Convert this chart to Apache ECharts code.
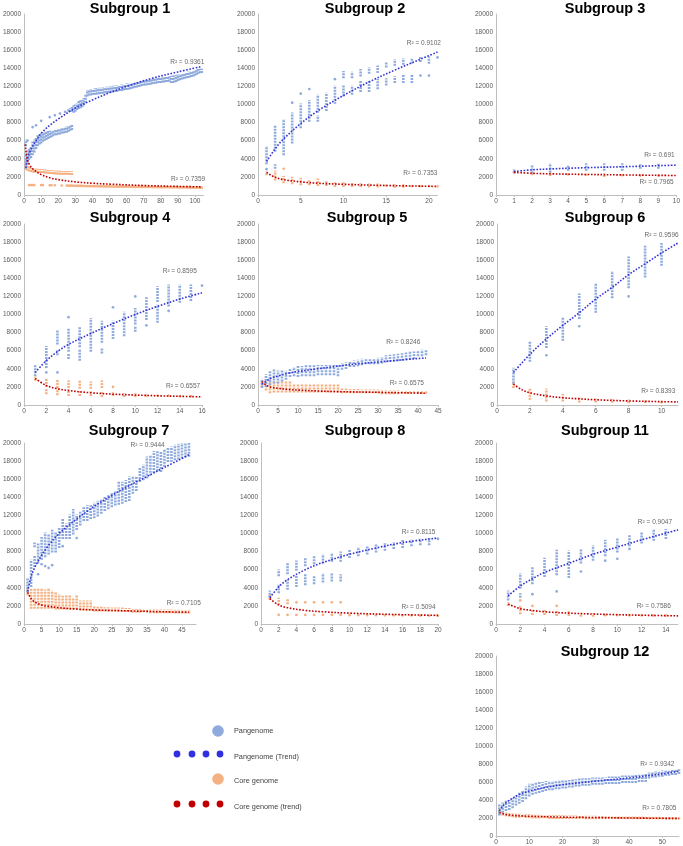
<!DOCTYPE html>
<html><head><meta charset="utf-8">
<script src="https://cdn.jsdelivr.net/npm/echarts@6/dist/echarts.min.js"></script>
<style>html,body{margin:0;padding:0;background:#fff}#c{width:683px;height:846px}</style>
</head><body><div id="c"></div>
<script>
// ---------- DATA: ranges are [x, low, high] (low==high -> single point) ----------
const yTicks = [0, 20000, 2000];
const sg1Pan = [[1,3000,4500],[1,5500,6000],[2,3500,4800],[2,6000,6000],[3,4000,5000],[4,4200,5300],[5,4500,5800],[5,7500,7500],[6,4800,6000],[7,5200,6300],[7,7700,7700],[8,5500,6500],[9,5700,6600],[10,5800,6700],[10,8200,8200],[11,6000,6800],[12,6100,6900],[13,6200,6900],[14,6300,7000],[15,6400,7000],[15,8600,8600],[16,6500,7000],[17,6600,7000],[18,6700,7100],[18,8800,8800],[19,6700,7100],[20,6800,7200],[21,6800,7200],[21,9000,9000],[22,6900,7300],[23,6900,7300],[24,7000,7400],[24,9200,9200],[25,7000,7500],[26,7100,7500],[26,9300,9400],[27,7200,7600],[27,9300,9500],[28,7300,7700],[28,9300,9600],[29,9200,9800],[30,9300,9900],[31,9500,10000],[32,9600,10300],[33,9700,10400],[34,9800,10400],[35,10000,10600],[36,10300,11000],[37,11000,11500],[38,11100,11550],[39,11100,11600],[40,11150,11600],[41,11200,11650],[42,11200,11700],[43,11250,11700],[44,11250,11750],[45,11300,11750],[46,11300,11800],[47,11350,11800],[48,11350,11850],[49,11400,11850],[50,11400,11900],[51,11450,11900],[52,11450,11950],[53,11500,11950],[54,11500,12000],[55,11550,12000],[56,11600,12050],[57,11600,12100],[58,11650,12100],[59,11700,12150],[60,11700,12200],[61,11750,12200],[62,11800,12250],[63,11850,12300],[64,11900,12300],[65,11950,12350],[66,12000,12400],[67,12050,12450],[68,12100,12500],[69,12150,12500],[70,12200,12550],[71,12200,12600],[72,12250,12600],[73,12300,12650],[74,12300,12700],[75,12350,12700],[76,12400,12750],[77,12400,12800],[78,12450,12800],[79,12500,12850],[80,12500,12900],[81,12550,12900],[82,12550,12950],[83,12600,13000],[84,12600,13000],[85,12650,13050],[86,12500,13050],[87,12500,13100],[88,12550,13100],[89,12600,13150],[90,12700,13200],[91,12800,13250],[92,12850,13300],[93,12900,13350],[94,12950,13400],[95,13000,13450],[96,13050,13500],[97,13100,13550],[98,13150,13600],[99,13200,13650],[100,13300,13700],[101,13400,13750],[102,13500,13800],[103,13550,13850],[104,13600,13850]];
const sg1Core = [[1,2900,4000],[2,2800,3300],[3,2700,3000],[3,1100,1100],[4,2650,2900],[4,1100,1100],[5,2600,2850],[5,1100,1100],[6,2600,2800],[6,1100,1100],[7,2600,2800],[8,2580,2780],[9,2560,2760],[10,2550,2750],[10,1100,1100],[11,2530,2730],[11,1100,1100],[12,2500,2700],[13,2480,2680],[14,2460,2660],[15,2450,2650],[15,1080,1080],[16,2420,2620],[16,1080,1080],[17,2400,2600],[18,2400,2580],[18,1080,1080],[19,2380,2580],[20,2380,2560],[21,2360,2560],[22,2360,2550],[22,1050,1050],[23,2350,2550],[24,2350,2540],[25,2340,2540],[25,1000,1080],[26,2340,2530],[26,1000,1080],[27,2330,2530],[27,990,1070],[28,2330,2520],[28,990,1070],[29,980,1060],[30,975,1060],[31,970,1055],[32,965,1050],[33,960,1045],[34,955,1040],[35,950,1040],[36,945,1035],[37,940,1030],[38,935,1030],[39,930,1025],[40,930,1020],[41,925,1020],[42,920,1015],[43,920,1010],[44,915,1010],[45,910,1005],[46,910,1000],[47,905,1000],[48,900,995],[49,900,990],[50,895,990],[51,895,985],[52,890,985],[53,890,980],[54,885,980],[55,885,975],[56,880,975],[57,880,970],[58,875,970],[59,875,965],[60,870,965],[61,870,960],[62,865,960],[63,865,955],[64,860,955],[65,860,950],[66,855,950],[67,855,945],[68,850,945],[69,850,940],[70,845,940],[71,845,935],[72,840,935],[73,840,930],[74,835,930],[75,835,925],[76,830,925],[77,830,920],[78,825,920],[79,825,915],[80,820,915],[81,820,910],[82,815,910],[83,815,905],[84,810,905],[85,810,900],[86,805,900],[87,805,900],[88,800,895],[89,800,895],[90,800,890],[91,795,890],[92,795,885],[93,790,885],[94,790,880],[95,785,880],[96,785,875],[97,780,875],[98,780,870],[99,775,870],[100,775,865],[101,770,865],[102,770,860],[103,765,860],[104,765,855]];
const sg1PanTrend = [[1,3000],[2,4000],[3,4600],[5,5400],[7,6000],[10,6800],[15,7700],[20,8400],[30,9600],[40,10500],[50,11300],[60,12000],[75,12900],[90,13600],[104,14200]];
const sg1CoreTrend = [[0.7,5600],[1,5000],[1.5,4300],[2,3900],[3,3400],[5,2900],[7,2600],[10,2250],[15,1900],[20,1700],[30,1450],[40,1300],[50,1200],[70,1050],[90,950],[104,900]];
const sg1R2 = [['R² = 0.9361',95.5,14700],['R² = 0.7359',96,1770]];

const sg2Pan = [[1,2800,2900],[1,3500,5300],[2,3000,3300],[2,4900,7600],[3,4500,8300],[4,5800,9000],[4,10200,10200],[5,7500,10000],[5,11200,11200],[6,8200,10400],[6,11700,11700],[7,8200,8700],[7,9200,11000],[8,9400,11200],[9,10200,12000],[9,12800,12800],[10,11000,12000],[10,13000,13600],[11,11200,12000],[11,13000,13500],[12,11500,12500],[12,13200,13800],[13,11500,12500],[13,13500,14000],[14,11800,12700],[14,13600,14200],[15,12200,12800],[15,14200,14600],[16,12500,13000],[16,14400,14900],[17,12500,13200],[17,14500,15000],[18,12500,13200],[18,14600,15000],[19,13200,13200],[19,14800,15200],[20,13200,13200],[20,14600,15200],[21,15200,15200]];
const sg2Core = [[1,2300,2500],[2,1700,2600],[3,1400,2000],[3,2900,2900],[4,1300,1900],[5,1200,1800],[6,1200,1600],[7,1100,1700],[8,1100,1400],[9,1000,1300],[10,1000,1300],[11,1000,1200],[12,1000,1200],[13,950,1150],[14,950,1150],[15,950,1100],[16,900,1100],[17,900,1100],[18,900,1050],[19,900,1050],[20,900,1050],[21,950,950]];
const sg2PanTrend = [[1,3700],[2,5100],[3,6200],[5,7900],[7,9300],[10,11000],[13,12500],[16,13800],[19,15000],[21,15800]];
const sg2CoreTrend = [[1,2500],[2,1950],[3,1700],[5,1450],[7,1300],[10,1180],[15,1050],[21,950]];
const sg2R2 = [['R² = 0.9102',19.4,16800],['R² = 0.7353',19,2430]];

const sg3Pan = [[1,2500,2700],[2,2500,3200],[3,2600,3400],[4,2800,3200],[5,2800,3400],[6,2800,3400],[7,2800,3400],[8,3000,3300],[9,3000,3400]];
const sg3Core = [[1,2500,2650],[2,2300,2500],[3,2200,2400],[4,2200,2350],[5,2150,2300],[6,2100,2300],[7,2100,2250],[8,2100,2200],[9,2100,2200]];
const sg3PanTrend = [[1,2600],[2,2780],[3,2880],[5,3020],[7,3120],[10,3300]];
const sg3CoreTrend = [[1,2500],[2,2400],[3,2340],[5,2270],[7,2220],[10,2150]];
const sg3R2 = [['R² = 0.691',9.06,4420],['R² = 0.7965',8.9,1440]];

const sg4Pan = [[1,3300,4400],[2,3600,3600],[2,4200,6400],[3,3600,3600],[3,5600,6000],[3,6800,8200],[4,5200,5600],[4,6000,8400],[4,9700,9700],[5,5000,6000],[5,6500,8600],[6,6000,6800],[6,7000,9500],[7,5800,6200],[7,7000,9200],[8,7400,9200],[8,10800,10800],[9,7700,10200],[10,8200,8600],[10,9000,10600],[10,12000,12000],[11,8800,8800],[11,9500,11800],[12,9200,11000],[12,11500,13000],[13,10400,10400],[13,11000,13200],[14,11400,13200],[15,11600,13200],[16,13200,13200]];
const sg4Core = [[1,2800,3000],[2,1300,1700],[2,2100,2800],[3,1200,1700],[3,2000,2700],[4,1100,1600],[4,2000,2600],[5,1100,1500],[5,1900,2600],[6,1100,1400],[6,1900,2500],[7,1000,1400],[7,2000,2600],[8,1100,1300],[8,2000,2000],[9,1000,1200],[10,1000,1200],[11,950,1100],[12,950,1100],[13,950,1100],[14,900,1050],[15,900,1050]];
const sg4PanTrend = [[1,3600],[2,4900],[3,5900],[4,6700],[6,7900],[8,9000],[10,10000],[12,10900],[14,11700],[16,12400]];
const sg4CoreTrend = [[1,2950],[2,2150],[3,1800],[4,1600],[6,1350],[8,1200],[10,1100],[12,1020],[14,960],[16,900]];
const sg4R2 = [['R² = 0.8595',14.0,14800],['R² = 0.6557',14.3,2100]];

const sg5Pan = [[1,2000,2800],[2,2100,3300],[3,2300,3700],[4,2500,3800],[5,2500,3700],[6,2700,3800],[7,2900,3700],[8,3200,3900],[9,3300,4100],[10,3200,4200],[11,3300,4200],[12,3300,4300],[13,3300,4300],[14,3300,4300],[15,3400,4300],[16,3400,4300],[17,3400,4300],[18,3400,4300],[19,3400,4300],[20,3300,4400],[21,4000,4500],[22,4100,4600],[23,4300,4700],[24,4300,4800],[25,4400,4900],[26,4500,5000],[27,4600,5000],[28,4600,5000],[29,4600,5000],[30,4600,5100],[31,4700,5200],[32,4800,5400],[33,4850,5450],[34,4900,5500],[35,4950,5550],[36,5000,5600],[37,5050,5700],[38,5100,5800],[39,5200,5800],[40,5500,5900],[41,5500,6000],[42,5600,6000]];
const sg5Core = [[1,2100,2600],[2,1700,2700],[3,1400,2700],[4,1500,2600],[5,1500,2500],[6,1500,2500],[7,1500,2500],[8,1500,2500],[9,1500,2200],[10,1500,2200],[11,1500,2200],[12,1500,2200],[13,1500,2200],[14,1500,2200],[15,1500,2200],[16,1500,2200],[17,1500,2200],[18,1500,2200],[19,1500,2200],[20,1500,2200],[21,1400,1700],[22,1400,1700],[23,1400,1650],[24,1400,1650],[25,1400,1650],[26,1400,1600],[27,1400,1600],[28,1400,1600],[29,1400,1600],[30,1400,1600],[31,1300,1500],[32,1300,1500],[33,1300,1500],[34,1300,1500],[35,1300,1500],[36,1300,1450],[37,1300,1450],[38,1300,1450],[39,1300,1450],[40,1300,1450],[41,1300,1450],[42,1300,1450]];
const sg5PanTrend = [[1,2300],[3,2900],[5,3200],[8,3550],[10,3700],[15,4000],[20,4300],[25,4550],[30,4750],[35,4950],[42,5200]];
const sg5CoreTrend = [[1,2600],[2,2200],[3,2000],[5,1850],[8,1700],[10,1650],[15,1550],[20,1480],[30,1400],[42,1300]];
const sg5R2 = [['R² = 0.8246',36.3,6960],['R² = 0.6575',37.2,2430]];

const sg6Pan = [[1,2500,4000],[2,4900,6900],[3,5500,5500],[3,6400,8600],[4,7200,9600],[5,8700,8700],[5,9600,12200],[6,10300,13400],[7,11900,14700],[8,12000,12000],[8,13000,16300],[9,14200,17500],[10,15500,17800]];
const sg6Core = [[1,2000,2500],[2,700,1700],[3,500,1700],[4,500,1100],[5,400,800],[6,400,600],[7,350,550],[8,300,500],[9,300,400],[10,250,350]];
const sg6PanTrend = [[1,3600],[2,5600],[3,7300],[4,8800],[5,10200],[6,11700],[7,13000],[8,14400],[9,15600],[10,16800],[11,17900]];
const sg6CoreTrend = [[1,2300],[1.5,1700],[2,1350],[3,1000],[4,800],[5,680],[6,580],[8,450],[10,370],[11,340]];
const sg6R2 = [['R² = 0.9596',10.0,18800],['R² = 0.8393',9.8,1550]];

const sg7Pan = [[1,3600,5000],[2,4200,7000],[3,6400,7500],[3,8600,8900],[4,5500,5500],[4,6800,8900],[5,6600,6600],[5,7200,9500],[6,6400,6400],[6,7500,10000],[7,6200,6200],[7,7800,9800],[8,6500,6500],[8,8000,10300],[9,8000,10000],[10,8500,10600],[11,8600,8600],[11,9500,11500],[12,9500,11000],[13,9500,12000],[14,10000,12600],[15,9500,9500],[15,10500,12000],[16,11000,12300],[17,11500,12800],[18,11500,13000],[19,11700,13000],[20,11800,13300],[21,12000,13500],[22,12300,13700],[23,12600,14000],[24,12800,14200],[25,13000,14400],[26,13200,14600],[27,13300,15700],[28,13400,15600],[29,13600,15800],[30,13700,16200],[31,14500,16200],[32,14800,16200],[33,15800,17200],[34,16000,17500],[35,16200,18400],[36,16500,18600],[37,16800,19000],[38,17000,19000],[39,16900,19000],[40,17500,19200],[41,18000,19400],[42,18000,19500],[43,18200,19700],[44,18300,19800],[45,18400,19900],[46,18500,19900],[47,18600,19900]];
const sg7Core = [[1,3300,4000],[2,1800,3900],[3,1800,3800],[4,1800,3800],[5,1800,3800],[6,1800,3700],[7,1800,3800],[8,1800,3600],[9,1700,3400],[10,1700,3200],[11,1700,3000],[12,1700,3100],[13,1700,3100],[14,1700,2800],[15,1700,3100],[16,1600,2500],[17,1600,2500],[18,1600,2500],[19,1600,2500],[20,1500,1900],[21,1500,1800],[22,1500,1800],[23,1500,1750],[24,1500,1750],[25,1500,1700],[26,1500,1700],[27,1500,1700],[28,1450,1700],[29,1450,1650],[30,1450,1650],[31,1350,1550],[32,1350,1550],[33,1350,1550],[34,1350,1500],[35,1350,1500],[36,1300,1500],[37,1300,1500],[38,1300,1500],[39,1300,1500],[40,1300,1480],[41,1300,1480],[42,1300,1480],[43,1280,1460],[44,1280,1460],[45,1280,1450],[46,1280,1450],[47,1280,1450]];
const sg7PanTrend = [[1,3600],[2,5200],[3,6200],[5,7600],[7,8700],[10,10000],[15,11600],[20,13000],[25,14200],[30,15300],[35,16300],[40,17300],[47,18700]];
const sg7CoreTrend = [[1,3500],[2,2800],[3,2450],[5,2100],[7,1950],[10,1800],[15,1650],[20,1550],[30,1450],[40,1350],[47,1300]];
const sg7R2 = [['R² = 0.9444',35.2,19780],['R² = 0.7105',45.5,2320]];

const sg8Pan = [[1,3000,3600],[2,3500,4300],[2,5400,5900],[3,3900,4800],[3,5600,6600],[4,4200,5200],[4,6000,6900],[5,4400,5400],[5,6500,7200],[6,4500,5200],[6,6700,7500],[7,4700,5500],[7,6800,7600],[8,4800,5500],[8,7000,7700],[9,4800,5400],[9,7000,7900],[10,7400,8100],[11,7600,8400],[12,7800,8500],[13,8000,8700],[14,8200,8800],[15,8400,8900],[16,8500,9200],[17,8700,9200],[18,8800,9300],[19,8800,9400],[20,9400,9400]];
const sg8Core = [[1,2800,3100],[2,1000,1000],[2,2200,2800],[3,1000,1000],[3,2300,2700],[4,1000,1000],[4,2400,2400],[5,1000,1000],[5,2400,2400],[6,1000,1000],[6,2400,2400],[7,1000,1000],[7,2400,2400],[8,1000,1000],[8,2400,2400],[9,1000,1000],[9,2400,2400],[10,950,1000],[11,950,1000],[12,950,1000],[13,950,1000],[14,930,980],[15,930,980],[16,920,970],[17,920,970],[18,900,950],[19,900,950],[20,900,950]];
const sg8PanTrend = [[1,2900],[2,4100],[3,4900],[5,6000],[7,6800],[10,7700],[13,8400],[16,9000],[20,9500]];
const sg8CoreTrend = [[1,2800],[2,2100],[3,1800],[5,1500],[7,1350],[10,1200],[15,1050],[20,950]];
const sg8R2 = [['R² = 0.8115',17.8,10170],['R² = 0.5094',17.8,1880]];

const sg11Pan = [[1,2700,3600],[2,3000,3300],[2,4000,5500],[3,3300,3300],[3,4500,6200],[4,5300,7200],[5,3600,3600],[5,5500,8100],[6,5200,8000],[7,5800,5800],[7,6800,8200],[8,7100,8600],[9,7000,7000],[9,7600,9200],[10,7200,7200],[10,8000,9400],[11,8300,8300],[11,8700,9800],[12,9000,10000],[13,9300,10300],[14,9500,10400]];
const sg11Core = [[1,2100,2300],[2,1200,2000],[2,2600,2600],[3,1100,1500],[3,2000,2000],[4,1100,1500],[5,1000,1400],[5,2000,2000],[6,1000,1300],[7,900,1100],[8,900,1100],[9,900,1050],[10,900,1050],[11,900,1000],[12,900,1000],[13,900,1000],[14,880,980]];
const sg11PanTrend = [[1,3100],[2,4200],[3,5000],[4,5700],[6,6700],[8,7700],[10,8500],[12,9300],[15,10400]];
const sg11CoreTrend = [[1,2200],[2,1700],[3,1500],[4,1350],[6,1200],[8,1100],[10,1030],[12,970],[15,900]];
const sg11R2 = [['R² = 0.9047',13.1,11270],['R² = 0.7586',13.0,1990]];

const sg12Pan = [[1,2400,3500],[2,2700,3600],[3,2900,3800],[4,3000,3900],[5,3200,4100],[6,3500,4400],[7,3700,4700],[8,3900,5000],[9,4200,5400],[10,4500,5700],[11,4700,5800],[12,4800,5800],[13,4900,5900],[14,5000,5900],[15,5100,6000],[16,5200,6000],[17,5200,6000],[18,5300,6000],[19,5300,6100],[20,5400,6100],[21,5400,6100],[22,5500,6100],[23,5500,6200],[24,5600,6200],[25,5600,6300],[26,5700,6300],[27,5700,6300],[28,5700,6300],[29,5800,6400],[30,5800,6400],[31,5800,6400],[32,5800,6400],[33,5900,6400],[34,5900,6500],[35,5900,6500],[36,5900,6500],[37,5900,6500],[38,6000,6600],[39,6000,6600],[40,6000,6600],[41,6000,6600],[42,6000,6700],[43,6100,6700],[44,6100,6700],[45,6100,6800],[46,6500,7000],[47,6600,7000],[48,6600,7100],[49,6700,7100],[50,6700,7200],[51,6800,7200],[52,6800,7200],[53,6900,7300],[54,6900,7300],[55,7000,7300]];
const sg12Core = [[1,2500,2800],[2,2400,2600],[3,2300,2500],[4,2250,2450],[5,2200,2400],[6,2150,2350],[7,2150,2350],[8,2150,2300],[9,2100,2300],[10,2100,2300],[11,2050,2250],[12,2050,2250],[13,2050,2250],[14,2050,2200],[15,2050,2200],[16,2000,2200],[17,2000,2200],[18,2000,2200],[19,2000,2200],[20,2000,2200],[21,2000,2180],[22,2000,2180],[23,2000,2180],[24,2000,2180],[25,2000,2150],[26,2000,2150],[27,1980,2150],[28,1980,2150],[29,1980,2150],[30,1980,2150],[31,1980,2120],[32,1980,2120],[33,1960,2120],[34,1960,2120],[35,1960,2100],[36,1960,2100],[37,1950,2100],[38,1950,2100],[39,1950,2100],[40,1950,2100],[41,1940,2080],[42,1940,2080],[43,1940,2080],[44,1930,2080],[45,1930,2060],[46,1920,2060],[47,1920,2060],[48,1920,2050],[49,1910,2050],[50,1900,2050],[51,1900,2040],[52,1900,2040],[53,1890,2030],[54,1890,2030],[55,1880,2020]];
const sg12PanTrend = [[1,2800],[2,3300],[3,3700],[5,4200],[7,4600],[10,5000],[15,5400],[20,5700],[25,5900],[30,6100],[40,6450],[50,6900],[55,7200]];
const sg12CoreTrend = [[1,2600],[3,2400],[5,2300],[10,2200],[20,2100],[30,2050],[40,2000],[55,1950]];
const sg12R2 = [['R² = 0.9342',48.5,7960],['R² = 0.7805',49.1,3090]];

const legendLabels = ['Pangenome','Pangenome (Trend)','Core genome','Core genome (trend)'];

// ---------- LAYOUT ----------
const panels = [
 {t:'Subgroup 1', d:[sg1Pan,sg1Core,sg1PanTrend,sg1CoreTrend,sg1R2], xMax:105, xInt:10, showMax:false, box:[22,14,181.5,181], tx:130, ty:1},
 {t:'Subgroup 2', d:[sg2Pan,sg2Core,sg2PanTrend,sg2CoreTrend,sg2R2], xMax:21, xInt:5, showMax:false, box:[258,14,179.5,181], tx:365, ty:1},
 {t:'Subgroup 3', d:[sg3Pan,sg3Core,sg3PanTrend,sg3CoreTrend,sg3R2], xMax:10, xInt:1, showMax:true, box:[496,14,181,181], tx:605, ty:1},
 {t:'Subgroup 4', d:[sg4Pan,sg4Core,sg4PanTrend,sg4CoreTrend,sg4R2], xMax:16, xInt:2, showMax:true, box:[22,224,180,181], tx:130, ty:210},
 {t:'Subgroup 5', d:[sg5Pan,sg5Core,sg5PanTrend,sg5CoreTrend,sg5R2], xMax:45, xInt:5, showMax:true, box:[258,224,180,181], tx:367, ty:210},
 {t:'Subgroup 6', d:[sg6Pan,sg6Core,sg6PanTrend,sg6CoreTrend,sg6R2], xMax:11, xInt:2, showMax:false, box:[497,224,181,181], tx:605, ty:210},
 {t:'Subgroup 7', d:[sg7Pan,sg7Core,sg7PanTrend,sg7CoreTrend,sg7R2], xMax:49, xInt:5, showMax:false, box:[21,443,175,181], tx:129, ty:423},
 {t:'Subgroup 8', d:[sg8Pan,sg8Core,sg8PanTrend,sg8CoreTrend,sg8R2], xMax:20, xInt:2, showMax:true, box:[261,443,177,181], tx:365, ty:423},
 {t:'Subgroup 11', d:[sg11Pan,sg11Core,sg11PanTrend,sg11CoreTrend,sg11R2], xMax:15, xInt:2, showMax:false, box:[496,443,182,181], tx:605, ty:423},
 {t:'Subgroup 12', d:[sg12Pan,sg12Core,sg12PanTrend,sg12CoreTrend,sg12R2], xMax:55, xInt:10, showMax:false, box:[496,656,183,181], tx:605, ty:644}
];

const C = {pan:'#8FAADC', core:'#F4B183', panT:'#3333D6', coreT:'#C00000', axis:'#BFBFBF', lab:'#595959', txt:'#404040'};
const FONT = '"Liberation Sans", Arial, sans-serif';
const plain = v => String(v);

function rangeSeries(data, color, i) {
  return {
    type:'custom', xAxisIndex:i, yAxisIndex:i, data:data, z:2, silent:true, animation:false,
    encode:{x:0, y:[1,2]},
    renderItem:function(params, api){
      const a = api.coord([api.value(0), api.value(1)]);
      const b = api.coord([api.value(0), api.value(2)]);
      const top = Math.min(a[1], b[1]), bot = Math.max(a[1], b[1]);
      if (bot - top < 1.5) {
        return {type:'circle', shape:{cx:a[0], cy:(top+bot)/2, r:1.35}, style:{fill:color}};
      }
      return {type:'line', shape:{x1:a[0], y1:bot+1, x2:a[0], y2:top-1},
              style:{stroke:color, lineWidth:2.6, lineDash:[2,1], lineCap:'butt'}};
    }
  };
}

const grid=[], xAxis=[], yAxis=[], series=[], graphic=[];
panels.forEach((p,i)=>{
  grid.push({left:p.box[0], top:p.box[1], width:p.box[2], height:p.box[3], containLabel:false});
  xAxis.push({type:'value', gridIndex:i, min:0, max:p.xMax, interval:p.xInt, splitLine:{show:false},
    axisLine:{show:true, onZero:false, lineStyle:{color:C.axis, width:1}},
    axisTick:{show:true, length:2, lineStyle:{color:C.axis}},
    axisLabel:{fontSize:6.5, color:C.lab, margin:3, fontFamily:FONT, showMaxLabel:p.showMax, showMinLabel:true, formatter:plain}});
  yAxis.push({type:'value', gridIndex:i, min:yTicks[0], max:yTicks[1], interval:yTicks[2], splitLine:{show:false},
    axisLine:{show:true, lineStyle:{color:C.axis, width:1}},
    axisTick:{show:false},
    axisLabel:{fontSize:6.5, color:C.lab, margin:3, fontFamily:FONT, formatter:plain}});
  const [pan, core, pt, ct, r2] = p.d;
  series.push(rangeSeries(core, C.core, i));
  series.push(rangeSeries(pan, C.pan, i));
  series.push({type:'line', xAxisIndex:i, yAxisIndex:i, data:pt, smooth:0.35, showSymbol:false, z:4, silent:true,
    lineStyle:{type:'dotted', width:1.6, color:C.panT}});
  series.push({type:'line', xAxisIndex:i, yAxisIndex:i, data:ct, smooth:0.35, showSymbol:false, z:4, silent:true,
    lineStyle:{type:'dotted', width:1.6, color:C.coreT}});
  series.push({type:'scatter', xAxisIndex:i, yAxisIndex:i, symbolSize:0, z:5, silent:true,
    data:r2.map(r=>({name:r[0], value:[r[1], r[2]]})),
    label:{show:true, position:'inside', formatter:'{b}', fontSize:6.5, color:C.txt, fontFamily:FONT}});
  graphic.push({type:'text', x:p.tx, y:p.ty, silent:true,
    style:{text:p.t, fontSize:14.5, fontWeight:'bold', fontFamily:FONT, fill:'#000', align:'center', verticalAlign:'top'}});
});

// legend (drawn manually)
graphic.push({type:'circle', shape:{cx:218, cy:731, r:5.8}, style:{fill:C.pan}});
[177,192,206,220].forEach(x=>{
  graphic.push({type:'circle', shape:{cx:x, cy:754, r:3.4}, style:{fill:'#3030E0'}});
  graphic.push({type:'circle', shape:{cx:x, cy:804, r:3.4}, style:{fill:C.coreT}});
});
graphic.push({type:'circle', shape:{cx:218, cy:779, r:5.8}, style:{fill:C.core}});
[731,757,781,807].forEach((y,k)=>{
  graphic.push({type:'text', x:234, y:y, style:{text:legendLabels[k], fontSize:7.3, fontFamily:FONT, fill:C.txt, align:'left', verticalAlign:'middle'}});
});

const chart = echarts.init(document.getElementById('c'), null, {renderer:'canvas'});
chart.setOption({animation:false, backgroundColor:'#fff', grid, xAxis, yAxis, series, graphic});
</script></body></html>
